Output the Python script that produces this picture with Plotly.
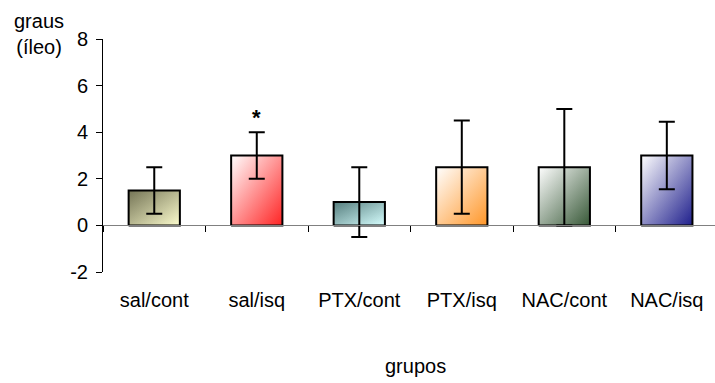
import plotly.graph_objects as go

categories = ["sal/cont", "sal/isq", "PTX/cont", "PTX/isq", "NAC/cont", "NAC/isq"]
means = [1.5, 3.0, 1.0, 2.5, 2.5, 3.0]
errors = [1.0, 1.0, 1.5, 2.0, 2.5, 1.45]
y_ticks = [-2, 0, 2, 4, 6, 8]
y_ticktext = ["-2", "0", "2", "4", "6", "8"]
# gradient colours: top-left corner, bottom-right corner
color_start = ["rgb(115,115,85)", "rgb(255,255,255)", "rgb(85,125,125)",
               "rgb(255,255,255)", "rgb(255,255,255)", "rgb(255,255,255)"]
color_end = ["rgb(252,252,205)", "rgb(255,35,35)", "rgb(215,255,255)",
             "rgb(255,150,40)", "rgb(55,88,55)", "rgb(30,30,140)"]

FONT = "Liberation Sans, Arial, sans-serif"
HALF = 0.25


def with_alpha(rgb, a):
    return rgb.replace("rgb(", "rgba(").replace(")", f",{a})")


fig = go.Figure()
for i, (v, c0, c1) in enumerate(zip(means, color_start, color_end)):
    xs = [i - HALF, i + HALF, i + HALF, i - HALF, i - HALF]
    ys = [0, 0, v, v, 0]
    # horizontal gradient (left -> right)
    fig.add_trace(go.Scatter(
        x=xs, y=ys, mode="lines", fill="toself",
        fillgradient=dict(type="horizontal", colorscale=[[0, c0], [1, c1]],
                          start=i - HALF, stop=i + HALF),
        line=dict(width=0, color="rgba(0,0,0,0)"),
        hoverinfo="skip", showlegend=False))
    # vertical gradient at half opacity -> diagonal blend
    fig.add_trace(go.Scatter(
        x=xs, y=ys, mode="lines", fill="toself",
        fillgradient=dict(type="vertical",
                          colorscale=[[0, with_alpha(c1, 0.5)], [1, with_alpha(c0, 0.5)]],
                          start=0, stop=v),
        line=dict(width=2, color="black"),
        hoverinfo="skip", showlegend=False))

# error bars
fig.add_trace(go.Scatter(
    x=list(range(len(categories))), y=means, mode="markers",
    marker=dict(size=1, color="rgba(0,0,0,0)"),
    error_y=dict(type="data", array=errors, visible=True, color="black",
                 thickness=2, width=8),
    hoverinfo="skip", showlegend=False))

# dummy trace for zero-line axis
fig.add_trace(go.Scatter(x=[0], y=[0], xaxis="x2", mode="none",
                         hoverinfo="skip", showlegend=False))

xr = [-0.5, len(categories) - 0.5 - 0.03]
fig.update_layout(
    width=715, height=383,
    margin=dict(l=103, r=0, t=39, b=111),
    plot_bgcolor="white", paper_bgcolor="white",
    font=dict(family=FONT, size=20, color="black"),
    xaxis=dict(range=xr, tickvals=list(range(len(categories))), ticktext=categories,
               ticks="", showline=False, showgrid=False, zeroline=False,
               tickfont=dict(size=20), ticklabelstandoff=14),
    xaxis2=dict(range=xr, overlaying="x", anchor="free", position=0.2,
                showline=True, linecolor="#808080", linewidth=1,
                ticks="outside", ticklen=6, tickcolor="black", tickwidth=1,
                tickvals=[k + 0.5 for k in range(-1, len(categories))],
                showticklabels=False, showgrid=False, zeroline=False),
    yaxis=dict(range=[-2, 8], tickvals=y_ticks, ticktext=y_ticktext,
               ticks="outside", ticklen=6,
               tickcolor="black", showline=True, linecolor="black", linewidth=1,
               showgrid=False, zeroline=False, tickfont=dict(size=20),
               ticklabelstandoff=4),
    annotations=[
        dict(text="graus<br>(íleo)", xref="paper", yref="paper", x=-0.1046, y=1.021,
             xanchor="center", yanchor="middle", showarrow=False,
             font=dict(size=20)),
        dict(text="grupos", xref="paper", yref="paper", x=0.51, y=-0.403,
             xanchor="center", yanchor="middle", showarrow=False,
             font=dict(size=20)),
        dict(text="<b>*</b>", x=1, y=means[1] + errors[1], xref="x", yref="y",
             xanchor="center", yanchor="bottom", showarrow=False,
             font=dict(size=22)),
    ],
)

fig.write_html("out.html")
